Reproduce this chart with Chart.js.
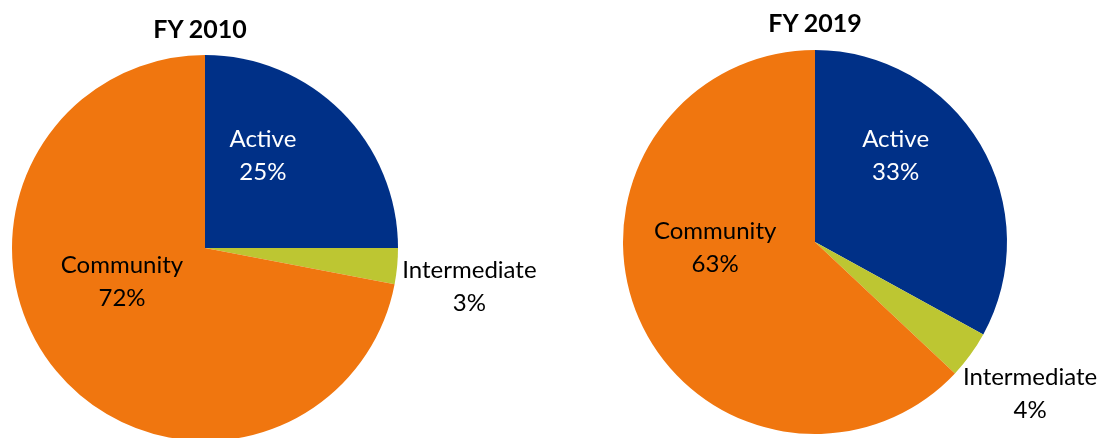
<!DOCTYPE html>
<html>
<head>
<meta charset="utf-8">
<script src="https://cdn.jsdelivr.net/npm/chart.js@4.4.0/dist/chart.umd.min.js"></script>
<style>
  html, body { margin: 0; padding: 0; background: #fff; overflow: hidden; width: 1104px; height: 438px; }
  .box { position: absolute; top: 0; }
  .title { position: absolute; font-family: Lato, sans-serif; font-weight: bold; font-size: 25px; color: #000; transform: translateX(-50%); white-space: nowrap; }
</style>
</head>
<body>
<div class="box" style="left:0;width:580px;height:460px"><canvas id="pie2010"></canvas></div>
<div class="box" style="left:600px;width:504px;height:460px"><canvas id="pie2019"></canvas></div>
<div class="title" style="left:200px;top:13px">FY 2010</div>
<div class="title" style="left:815px;top:7px">FY 2019</div>
<script>
const categories = ['Active', 'Intermediate', 'Community'];
const share2010 = [25, 3, 72];
const share2019 = [33, 4, 63];
const sliceColors = ['#003087', '#BDC632', '#F0760F'];
const labelColors = ['#ffffff', '#000000', '#000000'];

// label anchors, as fractions of the radius from the pie centre
const spots2010 = [[0.30, -0.48], [1.37, 0.20], [-0.43, 0.17]];
const spots2019 = [[0.42, -0.45], [1.12, 0.79], [-0.52, 0.03]];

const sliceLabels = {
    id: 'sliceLabels',
    afterDatasetsDraw(chart, args, opts) {
        const ctx = chart.ctx;
        const meta = chart.getDatasetMeta(0);
        const values = chart.data.datasets[0].data;
        ctx.save();
        ctx.font = '24px Lato, sans-serif';
        ctx.textAlign = 'center';
        ctx.textBaseline = 'middle';
        meta.data.forEach((arc, i) => {
            const r = arc.outerRadius;
            const x = arc.x + opts.spots[i][0] * r;
            const y = arc.y + opts.spots[i][1] * r;
            ctx.fillStyle = labelColors[i];
            ctx.fillText(chart.data.labels[i], x, y - 16);
            ctx.fillText(values[i] + '%', x, y + 17);
        });
        ctx.restore();
    }
};

function makePie(id, values, spots, pad) {
    new Chart(document.getElementById(id), {
        type: 'pie',
        data: {
            labels: categories,
            datasets: [{
                data: values,
                backgroundColor: sliceColors,
                borderWidth: 0
            }]
        },
        options: {
            responsive: true,
            maintainAspectRatio: false,
            animation: false,
            layout: { padding: pad },
            plugins: {
                legend: { display: false },
                tooltip: { enabled: false },
                sliceLabels: { spots: spots }
            }
        },
        plugins: [sliceLabels]
    });
}

makePie('pie2010', share2010, spots2010, { left: 12, top: 55, right: 182, bottom: 19 });
makePie('pie2019', share2019, spots2019, { left: 23, top: 50, right: 97, bottom: 26 });
</script>
</body>
</html>
